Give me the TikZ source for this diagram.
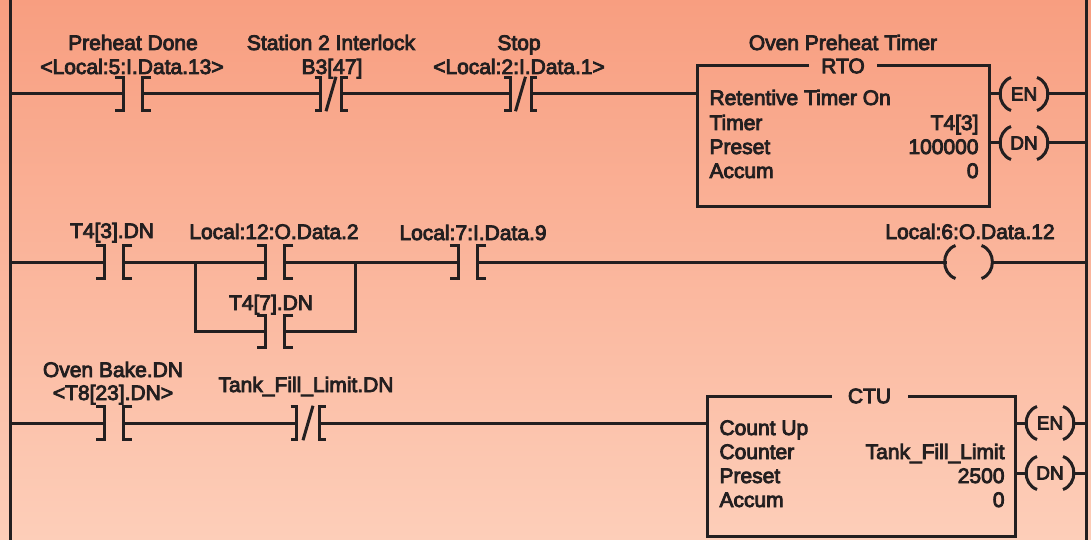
\documentclass[tikz,border=0pt]{standalone}
\usepackage{fontspec}
\setmainfont{Liberation Sans}[FakeBold=4]
\definecolor{ink}{HTML}{231F20}
\definecolor{bgtop}{HTML}{F89E80}
\definecolor{bgbot}{HTML}{FDCEB9}

\begin{document}
\begin{tikzpicture} [x=1pt, y=-1pt, line width=3pt, draw=ink, text=ink,
	wire/.style = {draw=ink, line width=3pt, line cap=butt, line join=miter},
	lab/.style = {font=\fontsize{21}{24}\selectfont, inner sep=0pt, anchor=base},
	contact/.style = {minimum height=29.5pt, inner sep=0pt},
	coil/.style = {minimum width=43pt, minimum height=30pt, inner sep=0pt, font=\fontsize{19}{24}\selectfont},
	block/.style = {inner sep=0pt, minimum height=139pt}]
\def\xl{10}
\def\xr{1086}
\newcommand{\brackets}[2]{
	\draw[wire] ([xshift=-#2 pt]#1.north west) -- (#1.north west) -- (#1.south west) -- ([xshift=-#2 pt]#1.south west);
	\draw[wire] ([xshift=#2 pt]#1.north east) -- (#1.north east) -- (#1.south east) -- ([xshift=#2 pt]#1.south east);
}
\newcommand{\nocontact}[3]{
	\node[contact, minimum width=15.5pt] (#1) at (#2,#3) {};
	\brackets{#1}{9}
}
\newcommand{\nccontact}[4]{
	\node[contact, minimum width=#4pt] (#1) at (#2,#3) {};
	\brackets{#1}{6}
	\draw[wire] ([xshift=-5pt,yshift=-1pt]#1.south) -- ([xshift=5pt,yshift=1pt]#1.north);
}
\newcommand{\coilnode}[4]{
	\node[coil] (#1) at (#2,#3) {#4};
	\draw[wire] ([xshift=10pt]#1.north west) to[bend right=70, looseness=1.2] ([xshift=10pt]#1.south west);
	\draw[wire] ([xshift=-10pt]#1.north east) to[bend left=70, looseness=1.2] ([xshift=-10pt]#1.south east);
}

% background and rails
\useasboundingbox (0,0) rectangle (1091,540);
\shade[top color=bgtop, bottom color=bgbot] (0,0) rectangle (1091,540);
\coordinate (lt) at (\xl,0);
\coordinate (lb) at (\xl,540);
\coordinate (rt) at (\xr,0);
\coordinate (rb) at (\xr,540);
\draw[wire] (lt) -- (lb);
\draw[wire] (rt) -- (rb);

% rung 1
\coordinate (l1) at (\xl,94);
\coordinate (r1) at (\xr,94);
\coordinate (r2) at (\xr,143);
\nocontact{c1}{133}{94}
\nccontact{c2}{331}{94}{18}
\nccontact{c3}{520.5}{94}{18}
\node[block, minimum width=289pt] (rto) at (843.5,135.5) {};
\node[lab, anchor=center, minimum width=65pt] (rtotitle) at (843,66) {RTO};
\draw[wire] (rtotitle.west) -- (rtotitle.west -| rto.west) -- (rto.south west) -- (rto.south east) -- (rtotitle.east -| rto.east) -- (rtotitle.east);
\coilnode{en1}{1024}{94}{EN}
\coilnode{dn1}{1024}{143}{DN}
\draw[wire] (l1) -- (c1.west);
\draw[wire] (c1.east) -- (c2.west);
\draw[wire] (c2.east) -- (c3.west);
\draw[wire] (c3.east) -- (c3.east -| rto.west);
\draw[wire] (en1.west -| rto.east) -- ([xshift=1pt]en1.west);
\draw[wire] (dn1.west -| rto.east) -- ([xshift=1pt]dn1.west);
\draw[wire] ([xshift=-1pt]en1.east) -- (r1);
\draw[wire] ([xshift=-1pt]dn1.east) -- (r2);
\node[lab] (t1a) at (133,50) {Preheat Done};
\node[lab] (t1b) at (132,74) {<Local:5:I.Data.13>};
\node[lab] (t2a) at (331,50) {Station 2 Interlock};
\node[lab] (t2b) at (332,74) {B3[47]};
\node[lab] (t3a) at (519,50) {Stop};
\node[lab] (t3b) at (519,74) {<Local:2:I.Data.1>};
\node[lab] (t4a) at (843,50) {Oven Preheat Timer};
\foreach \i/\y/\a/\b in {1/105/Retentive Timer On/,2/130/Timer/T4[3],3/154/Preset/100000,4/178/Accum/0} {
	\node[lab, anchor=base west] (rtol\i) at (708,\y) {\a};
	\node[lab, anchor=base east] (rtov\i) at (980,\y) {\b};
}

% rung 2
\coordinate (l3) at (\xl,262);
\coordinate (r3) at (\xr,262);
\nocontact{c4}{114}{262}
\nocontact{c5}{275}{262}
\nocontact{c6}{275}{331.5}
\nocontact{c7}{468}{262}
\coordinate (bl) at (195,262);
\coordinate (br) at (355.5,262);
\coilnode{out1}{968.5}{262}{}
\draw[wire] (l3) -- (c4.west);
\draw[wire] (c4.east) -- (c5.west);
\draw[wire] (c5.east) -- (c7.west);
\draw[wire] (c7.east) -- ([xshift=1pt]out1.west);
\draw[wire] ([xshift=-1pt]out1.east) -- (r3);
\draw[wire] (bl) |- (c6.west);
\draw[wire] (br) |- (c6.east);
\node[lab] (t5) at (112,238) {T4[3].DN};
\node[lab] (t6) at (274,239) {Local:12:O.Data.2};
\node[lab] (t7) at (473,240) {Local:7:I.Data.9};
\node[lab] (t8) at (970,239) {Local:6:O.Data.12};
\node[lab] (t9) at (271,310) {T4[7].DN};

% rung 3
\coordinate (l4) at (\xl,423);
\coordinate (r4) at (\xr,423);
\coordinate (r5) at (\xr,473);
\nocontact{c8}{114}{423}
\nccontact{c9}{308}{423}{20}
\node[block, minimum width=305pt] (ctu) at (861.5,465.5) {};
\node[lab, anchor=center, minimum width=73pt] (ctutitle) at (869.5,396) {CTU};
\draw[wire] (ctutitle.west) -- (ctutitle.west -| ctu.west) -- (ctu.south west) -- (ctu.south east) -- (ctutitle.east -| ctu.east) -- (ctutitle.east);
\coilnode{en2}{1050}{423}{EN}
\coilnode{dn2}{1050}{473}{DN}
\draw[wire] (l4) -- (c8.west);
\draw[wire] (c8.east) -- (c9.west);
\draw[wire] (c9.east) -- (c9.east -| ctu.west);
\draw[wire] (en2.west -| ctu.east) -- ([xshift=1pt]en2.west);
\draw[wire] (dn2.west -| ctu.east) -- ([xshift=1pt]dn2.west);
\draw[wire] ([xshift=-1pt]en2.east) -- (r4);
\draw[wire] ([xshift=-1pt]dn2.east) -- (r5);
\node[lab] (t10) at (113,377) {Oven Bake.DN};
\node[lab] (t11) at (113,400) {<T8[23].DN>};
\node[lab] (t12) at (306,392) {Tank\_Fill\_Limit.DN};
\foreach \i/\y/\a/\b in {1/435/Count Up/,2/459/Counter/Tank\_Fill\_Limit,3/483/Preset/2500,4/507/Accum/0} {
	\node[lab, anchor=base west] (ctul\i) at (718,\y) {\a};
	\node[lab, anchor=base east] (ctuv\i) at (1006,\y) {\b};
}
\end{tikzpicture}
\end{document}
